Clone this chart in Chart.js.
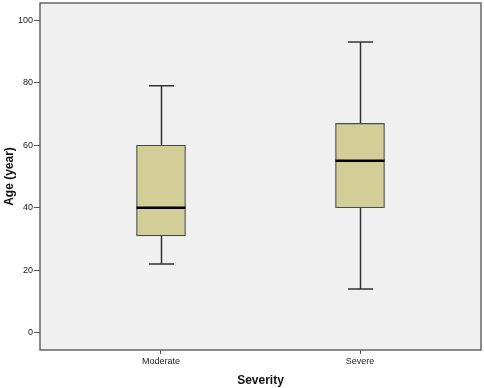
<!DOCTYPE html>
<html>
<head>
<meta charset="utf-8">
<script src="https://cdn.jsdelivr.net/npm/chart.js@4"></script>
<style>
  html, body { margin: 0; padding: 0; background: #ffffff; }
  #wrap { width: 484px; height: 388px; }
</style>
</head>
<body>
<div id="wrap"><canvas id="graph" width="484" height="388"></canvas></div>
<script>
// box plot data
const categories = ["Moderate", "Severe"];
const whiskerLow = [22, 14];
const quartile1 = [31, 40];
const medians = [40, 55];
const quartile3 = [60, 67];
const whiskerHigh = [79, 93];
const yTicks = [0, 20, 40, 60, 80, 100];

const graph = document.getElementById("graph");

// positions along the x axis, one per category
const xPos = categories.map((c, i) => i + 1);

// draws plot background, whiskers, medians and frame with the chart scales
const boxPlugin = {
    id: "boxExtras",
    beforeDatasetsDraw(chart) {
        const ctx = chart.ctx;
        const a = chart.chartArea;
        ctx.save();
        ctx.fillStyle = "#f0f0f0";
        ctx.fillRect(a.left, a.top, a.right - a.left, a.bottom - a.top);

        const x = chart.scales.x;
        const y = chart.scales.y;
        ctx.strokeStyle = "#333333";
        ctx.lineWidth = 1.5;
        xPos.forEach((p, i) => {
            const cx = Math.round(x.getPixelForValue(p)) + 0.5;
            const capHalf = 12.5;
            // upper whisker
            ctx.beginPath();
            ctx.moveTo(cx, y.getPixelForValue(quartile3[i]));
            ctx.lineTo(cx, y.getPixelForValue(whiskerHigh[i]));
            ctx.moveTo(cx - capHalf, y.getPixelForValue(whiskerHigh[i]));
            ctx.lineTo(cx + capHalf, y.getPixelForValue(whiskerHigh[i]));
            // lower whisker
            ctx.moveTo(cx, y.getPixelForValue(quartile1[i]));
            ctx.lineTo(cx, y.getPixelForValue(whiskerLow[i]));
            ctx.moveTo(cx - capHalf, y.getPixelForValue(whiskerLow[i]));
            ctx.lineTo(cx + capHalf, y.getPixelForValue(whiskerLow[i]));
            ctx.stroke();
        });
        ctx.restore();
    },
    afterDatasetsDraw(chart) {
        const ctx = chart.ctx;
        const a = chart.chartArea;
        const x = chart.scales.x;
        const y = chart.scales.y;
        ctx.save();
        ctx.strokeStyle = "#000000";
        ctx.lineWidth = 2.5;
        xPos.forEach((p, i) => {
            const cx = x.getPixelForValue(p);
            const my = y.getPixelForValue(medians[i]);
            ctx.beginPath();
            ctx.moveTo(cx - 24.5, my);
            ctx.lineTo(cx + 24.5, my);
            ctx.stroke();
        });
        ctx.strokeStyle = "#666666";
        ctx.lineWidth = 1.5;
        ctx.strokeRect(a.left, a.top, a.right - a.left, a.bottom - a.top);
        ctx.restore();
    }
};

new Chart(graph, {
    type: "bar",
    data: {
        datasets: [{
            label: "Age",
            data: xPos.map((p, i) => ({ x: p, y: [quartile1[i], quartile3[i]] })),
            backgroundColor: "#d3ce97",
            borderColor: "#4a4a4a",
            borderWidth: 1.2,
            borderSkipped: false,
            barThickness: 49
        }]
    },
    options: {
        responsive: false,
        animation: false,
        layout: { padding: { top: 3, right: 3, left: 0, bottom: 0 } },
        plugins: {
            legend: { display: false },
            tooltip: { enabled: false }
        },
        scales: {
            x: {
                type: "linear",
                offset: false,
                min: 0.392,
                max: 2.608,
                afterFit: (axis) => {
                    axis.height = 38;
                    axis.paddingLeft = 0;
                    axis.paddingRight = 0;
                },
                afterBuildTicks: (axis) => { axis.ticks = xPos.map(v => ({ value: v })); },
                grid: { offset: false, drawOnChartArea: false, drawTicks: true, tickLength: 4, color: "#555555" },
                border: { display: false },
                ticks: {
                    padding: 2,
                    color: "#222222",
                    font: { family: "Liberation Sans", size: 9 },
                    callback: (v) => categories[v - 1]
                },
                title: {
                    display: true,
                    text: "Severity",
                    color: "#111111",
                    padding: { top: 4, bottom: 0 },
                    font: { family: "Liberation Sans", size: 12, weight: "bold" }
                }
            },
            y: {
                min: -5.5,
                max: 105.5,
                afterFit: (axis) => {
                    axis.width = 40;
                    axis.paddingTop = 0;
                    axis.paddingBottom = 0;
                },
                afterBuildTicks: (axis) => { axis.ticks = yTicks.map(v => ({ value: v })); },
                grid: { drawOnChartArea: false, drawTicks: true, tickLength: 6, color: "#555555" },
                border: { display: false },
                ticks: {
                    padding: 1,
                    color: "#222222",
                    font: { family: "Liberation Sans", size: 9 }
                },
                title: {
                    display: true,
                    text: "Age (year)",
                    color: "#111111",
                    padding: { top: 2, bottom: 0 },
                    font: { family: "Liberation Sans", size: 12, weight: "bold" }
                }
            }
        }
    },
    plugins: [boxPlugin]
});
</script>
</body>
</html>
